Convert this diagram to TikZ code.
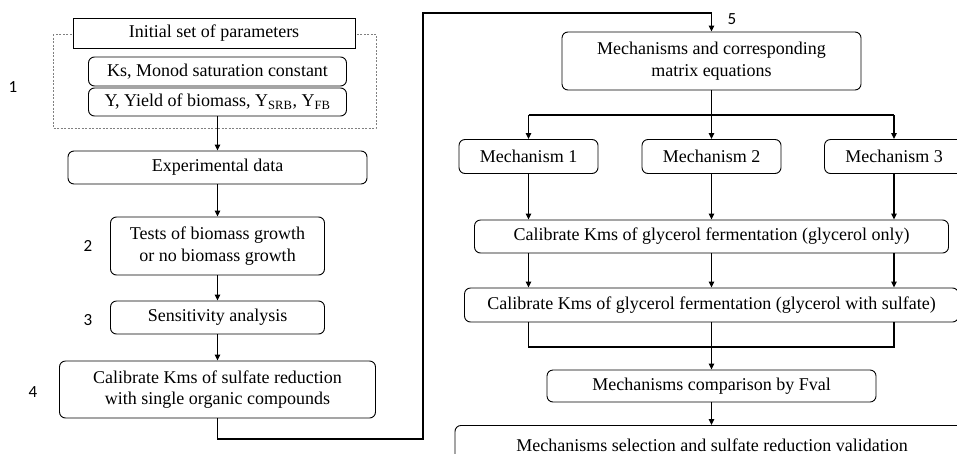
\documentclass[tikz,border=0pt]{standalone}
\usepackage{fontspec}
\setmainfont{Liberation Serif}
\newfontfamily\numfont{Carlito}
\usetikzlibrary{arrows.meta}
\begin{document}
\begin{tikzpicture}[x=1pt,y=-1pt,
  box/.style={draw=black, line width=0.9pt, rounded corners=6pt, fill=white, inner sep=0pt, align=center,
    font=\fontsize{18}{21.5}\selectfont},
  sqbox/.style={box, rounded corners=0pt},
  num/.style={font=\numfont\fontsize{17}{20}\selectfont, inner sep=0pt},
  conn/.style={line width=1.3pt},
  arr/.style={conn, -{Triangle[length=6pt,width=5.5pt]}},
  ]
\useasboundingbox (0,0) rectangle (957,453);
\clip (0,0) rectangle (957,453);
\fill[white] (0,0) rectangle (957,453);

% dashed frame
\draw[gray, line width=0.6pt, dash pattern=on 2pt off 1.5pt] (53,34) rectangle (376,128);

% left column
\node[sqbox, minimum width=282pt, minimum height=30pt] (init) at (214,33) {Initial set of parameters};
\node[box, minimum width=258pt, minimum height=29pt] (ks) at (217.5,71.5) {Ks, Monod saturation constant};
\node[box, minimum width=258pt, minimum height=28pt] (yb) at (217.5,102) {Y, Yield of biomass, Y\textsubscript{SRB}, Y\textsubscript{FB}};
\node[box, minimum width=299pt, minimum height=33pt] (exp) at (217.5,167.5) {Experimental data};
\node[box, minimum width=214pt, minimum height=58pt] (tests) at (217.5,246) {Tests of biomass growth\\or no biomass growth};
\node[box, minimum width=214pt, minimum height=33pt] (sens) at (217.5,317.5) {Sensitivity analysis};
\node[box, minimum width=316pt, minimum height=57pt] (cal) at (217.5,389.5) {Calibrate Kms of sulfate reduction\\with single organic compounds};

\node[num] (n1) at (13,87) {1};
\node[num] (n2) at (88,246) {2};
\node[num] (n3) at (88,320) {3};
\node[num] (n4) at (33,392) {4};
\node[num] (n5) at (732,19) {5};

% right column
\node[box, minimum width=299pt, minimum height=58pt] (mech) at (711.5,61) {Mechanisms and corresponding\\matrix equations};
\node[box, minimum width=139pt, minimum height=34pt] (m1) at (528.5,156.5) {Mechanism 1};
\node[box, minimum width=139pt, minimum height=34pt] (m2) at (711.5,156.5) {Mechanism 2};
\node[box, minimum width=139pt, minimum height=34pt] (m3) at (894,156.5) {Mechanism 3};
\node[box, minimum width=474pt, minimum height=33pt] (go) at (711.5,236.5) {Calibrate Kms of glycerol fermentation (glycerol only)};
\node[box, minimum width=494pt, minimum height=34pt] (gs) at (711.5,305) {Calibrate Kms of glycerol fermentation (glycerol with sulfate)};
\node[box, minimum width=329pt, minimum height=32pt] (fval) at (711.5,386) {Mechanisms comparison by Fval};
\node[box, minimum width=514pt, anchor=north, inner ysep=14pt, text height=12pt, text depth=4pt] (fin) at (712,425) {Mechanisms selection and sulfate reduction validation};

% coordinates
\coordinate (c1) at (217.5,439);
\coordinate (c2) at (423,439);
\coordinate (c3) at (423,13);
\coordinate (c4) at (711.5,13);
\coordinate (j1) at (711.5,115);
\coordinate (jl) at (528.5,115);
\coordinate (jr) at (894,115);
\coordinate (k1) at (528.5,347);
\coordinate (k2) at (711.5,347);
\coordinate (k3) at (894,347);

% left connectors
\draw[arr] (yb.south) -- (exp.north);
\draw[arr] (exp.south) -- (tests.north);
\draw[arr] (tests.south) -- (sens.north);
\draw[arr] (sens.south) -- (cal.north);
\draw[conn] (cal.south) -- (c1) -- (c2) -- (c3) -- (c4);
\draw[arr] (c4) -- (mech.north);

% right connectors
\draw[conn] (mech.south) -- (j1);
\draw[conn] (jl) -- (jr);
\draw[arr] (jl) -- (m1.north);
\draw[arr] (j1) -- (m2.north);
\draw[arr] (jr) -- (m3.north);
\draw[arr] (m1.south) -- (m1.south |- go.north);
\draw[arr] (m2.south) -- (m2.south |- go.north);
\draw[arr] (m3.south) -- (m3.south |- go.north);
\draw[arr] (m1.south |- go.south) -- (m1.south |- gs.north);
\draw[arr] (m2.south |- go.south) -- (m2.south |- gs.north);
\draw[arr] (m3.south |- go.south) -- (m3.south |- gs.north);
\draw[conn] (m1.south |- gs.south) -- (k1) -- (k3) -- (m3.south |- gs.south);
\draw[conn] (m2.south |- gs.south) -- (k2);
\draw[arr] (k2) -- (fval.north);
\draw[arr] (fval.south) -- (fval.south |- fin.north);
\end{tikzpicture}
\end{document}
